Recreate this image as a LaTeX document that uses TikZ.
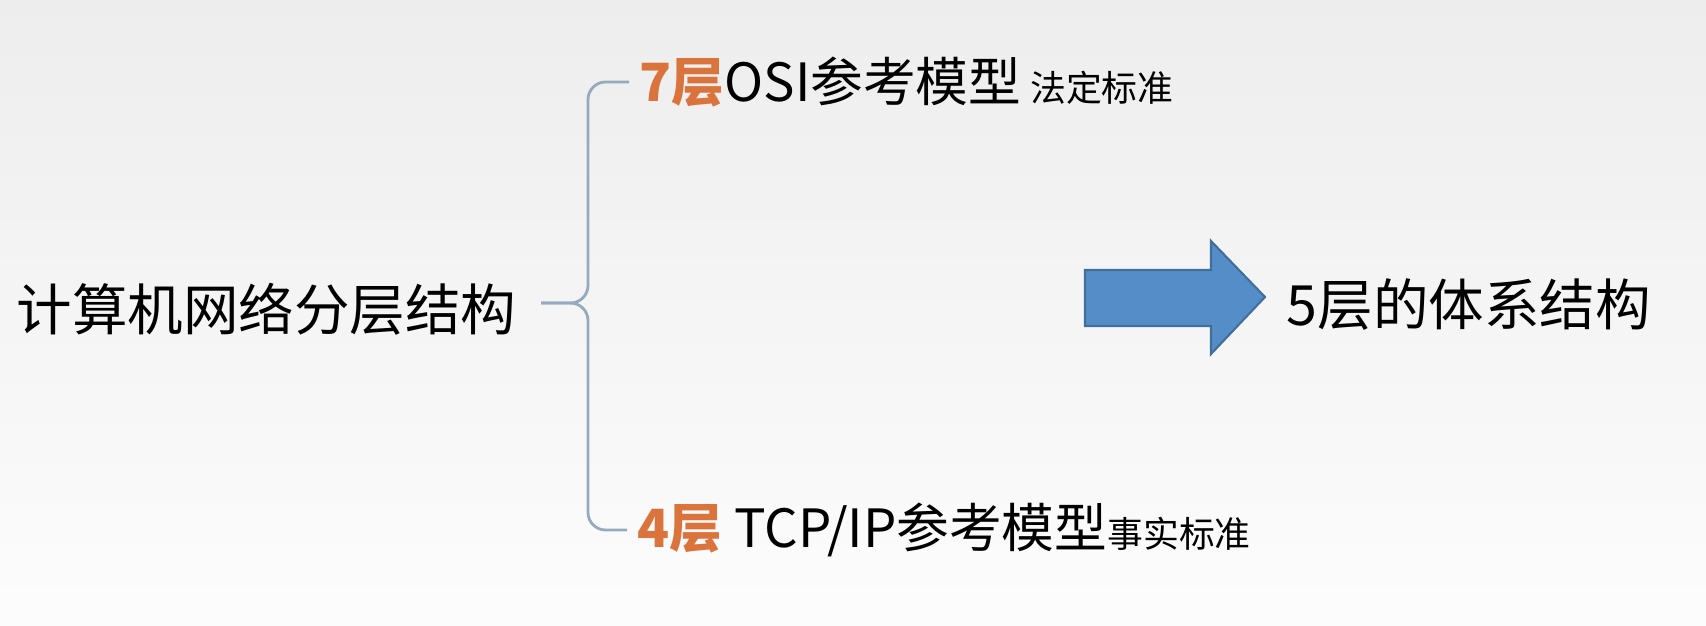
\documentclass[tikz,border=0pt]{standalone}
\usepackage{fontspec}
\setmainfont{Noto Sans CJK SC}
\usepackage{tikz}
\definecolor{layerorange}{RGB}{218,116,60}
\definecolor{bracegray}{RGB}{150,170,190}
\definecolor{arrowblue}{RGB}{84,141,199}
\definecolor{arrowedge}{RGB}{66,110,155}
\newcommand{\layernum}[1]{{\color{layerorange}\bfseries #1}}
\newcommand{\stdnote}[1]{{\fontsize{10.2}{12}\selectfont #1}}

\begin{document}
\begin{tikzpicture}[
    txt/.style={anchor=west, inner sep=0pt},
    brace/.style={bracegray, line width=0.8pt, rounded corners=5pt}
  ]
    % background
    \shade[top color=black!7, bottom color=black!1] (0,0) rectangle (17.06,6.25);
    \useasboundingbox (0,0) rectangle (17.06,6.25);

    % left title and the two models
    \node[txt, font=\fontsize{15.8}{18}\selectfont] (root) at (0.16,3.16) {计算机网络分层结构};
    \node[txt, font=\fontsize{15}{18}\selectfont] (osi) at (6.39,5.43)
        {\layernum{7层}OSI参考模型\,\stdnote{法定标准}};
    \node[txt, font=\fontsize{15}{18}\selectfont] (tcp) at (6.37,0.95)
        {\layernum{4层} TCP/IP参考模型\stdnote{事实标准}};

    % brace
    \coordinate (tip) at (5.41,3.22);
    \draw[brace] ([xshift=-0.1cm]osi.west) -| (5.88,3.22) -- (tip);
    \draw[brace] ([xshift=-0.1cm]tcp.west) -| (5.88,3.22) -- (tip);

    % arrow to the 5 layer result
    \draw[arrowedge, fill=arrowblue, line width=0.6pt]
        (10.85,3.55) -- (12.11,3.55) -- (12.11,3.84) -- (12.65,3.28)
        -- (12.11,2.71) -- (12.11,2.99) -- (10.85,2.99) -- cycle;
    \node[txt, font=\fontsize{15.8}{18}\selectfont] (five) at (12.86,3.20) {5层的体系结构};
\end{tikzpicture}
\end{document}
